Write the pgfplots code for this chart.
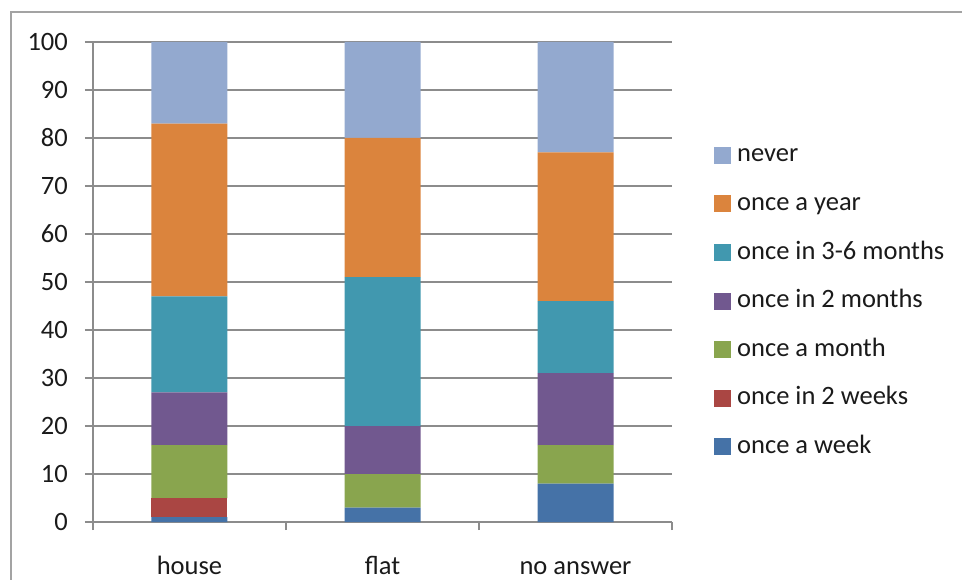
\documentclass[border=0pt]{standalone}
\usepackage{pgfplots}
\pgfplotsset{compat=1.18}
\usepackage{fontspec}
\setmainfont{Carlito}
\definecolor{cweek}{HTML}{4572A7}
\definecolor{ctwo}{HTML}{AA4643}
\definecolor{cmonth}{HTML}{89A54E}
\definecolor{ctwom}{HTML}{71588F}
\definecolor{cthree}{HTML}{4198AF}
\definecolor{cyear}{HTML}{DB843D}
\definecolor{cnever}{HTML}{93A9CF}
\definecolor{axgray}{HTML}{8C8C8C}
\definecolor{txt}{HTML}{1A1A1A}
\begin{document}
\fontsize{26.5}{32}\selectfont
\begin{tikzpicture}
\useasboundingbox (-93pt,-57pt) rectangle (869pt,522pt);
\draw[axgray!80, line width=2.5pt] (-82pt,-60pt) -- (-82pt,510pt) -- (875pt,510pt);
\begin{axis}[
  at={(0pt,0pt)}, anchor=south west,
  scale only axis, width=579pt, height=480pt,
  xmin=-0.5, xmax=2.5, ymin=0, ymax=100,
  ybar stacked, bar width=76pt,
  axis x line*=bottom, axis y line*=left,
  axis line style={axgray, line width=1.2pt, -},
  xtick={0,1,2}, xticklabels={house,flat,no answer},
  minor xtick={-0.5,0.5,1.5,2.5},
  major x tick style={draw=none},
  minor x tick style={draw=axgray, line width=1.2pt},
  ytick={0,10,...,100},
  ytick style={draw=axgray, line width=1.2pt},
  tick align=outside, major tick length=8pt, minor tick length=8pt,
  ymajorgrids, grid style={axgray, line width=1.2pt},
  /pgf/number format/assume math mode=true,
  ticklabel style={font=\fontsize{26.5}{32}\selectfont, text=txt},
  yticklabel style={anchor=east, inner sep=0pt, xshift=-17pt},
  xticklabel style={anchor=base, inner sep=0pt, yshift=-44pt},
  legend cell align=left,
  reverse legend,
  legend image code/.code={\fill[#1,draw=none] (0pt,-8.5pt) rectangle (17pt,8.5pt);},
  legend style={at={(1.0725,0.4604)}, anchor=west, draw=none, fill=none,
    inner sep=0pt, row sep=24.7pt, column sep=6pt,
    font=\fontsize{26.5}{32}\selectfont, text=txt,
    nodes={inner sep=0pt, text height=0.7em, text depth=0.2em}},
]
\addplot[fill=cweek, draw=none] coordinates {(0,1) (1,3) (2,8)};
\addplot[fill=ctwo, draw=none] coordinates {(0,4) (1,0) (2,0)};
\addplot[fill=cmonth, draw=none] coordinates {(0,11) (1,7) (2,8)};
\addplot[fill=ctwom, draw=none] coordinates {(0,11) (1,10) (2,15)};
\addplot[fill=cthree, draw=none] coordinates {(0,20) (1,31) (2,15)};
\addplot[fill=cyear, draw=none] coordinates {(0,36) (1,29) (2,31)};
\addplot[fill=cnever, draw=none] coordinates {(0,17) (1,20) (2,23)};
\legend{once a week, once in 2 weeks, once a month, once in 2 months, once in 3-6 months, once a year, never}
\end{axis}
\end{tikzpicture}
\end{document}
